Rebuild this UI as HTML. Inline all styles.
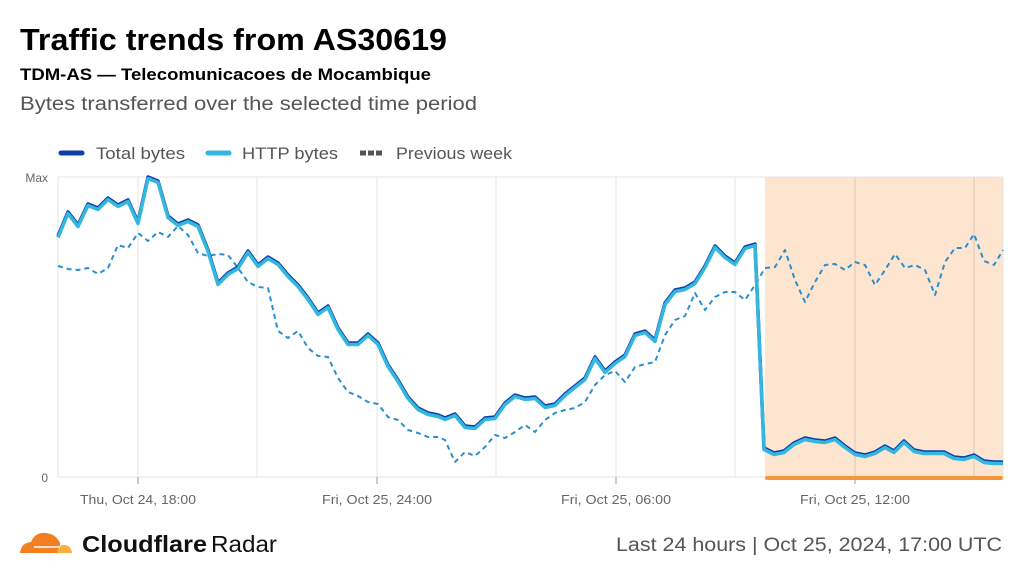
<!DOCTYPE html>
<html><head><meta charset="utf-8"><style>
html,body{margin:0;padding:0;background:#fff;}
body{width:1024px;height:576px;overflow:hidden;font-family:"Liberation Sans",sans-serif;}
</style></head><body>
<svg width="1024" height="576" viewBox="0 0 1024 576" xmlns="http://www.w3.org/2000/svg" font-family="Liberation Sans, sans-serif">
<text x="20" y="50" font-size="31" font-weight="bold" fill="#000" textLength="427" lengthAdjust="spacingAndGlyphs">Traffic trends from AS30619</text>
<text x="20" y="80" font-size="17" font-weight="bold" fill="#000" textLength="411" lengthAdjust="spacingAndGlyphs">TDM-AS — Telecomunicacoes de Mocambique</text>
<text x="20" y="110" font-size="19" fill="#555" textLength="457" lengthAdjust="spacingAndGlyphs">Bytes transferred over the selected time period</text>
<!-- legend -->
<line x1="61" y1="153" x2="82" y2="153" stroke="#0a3ea8" stroke-width="5" stroke-linecap="round"/>
<text x="96" y="159" font-size="17" fill="#555" textLength="89" lengthAdjust="spacingAndGlyphs">Total bytes</text>
<line x1="208" y1="153" x2="229" y2="153" stroke="#34b6dd" stroke-width="5" stroke-linecap="round"/>
<text x="242" y="159" font-size="17" fill="#555" textLength="96" lengthAdjust="spacingAndGlyphs">HTTP bytes</text>
<line x1="360" y1="153" x2="383" y2="153" stroke="#555" stroke-width="5" stroke-dasharray="6,2"/>
<text x="396" y="159" font-size="17" fill="#555" textLength="116" lengthAdjust="spacingAndGlyphs">Previous week</text>
<!-- shade -->
<rect x="765" y="177" width="238" height="300" fill="#fde5d0"/>
<g stroke="#e4e4e4" stroke-width="1">
<line x1="58" y1="177" x2="1003" y2="177"/>
<line x1="58" y1="477" x2="1003" y2="477"/>
<line x1="58" y1="177" x2="58" y2="477"/>
<line x1="138" y1="177" x2="138" y2="477"/><line x1="257" y1="177" x2="257" y2="477"/>
<line x1="377" y1="177" x2="377" y2="477"/><line x1="496" y1="177" x2="496" y2="477"/>
<line x1="616" y1="177" x2="616" y2="477"/><line x1="735" y1="177" x2="735" y2="477"/>
<line x1="855" y1="177" x2="855" y2="477" stroke="#dcc8b8"/><line x1="974" y1="177" x2="974" y2="477" stroke="#dcc8b8"/>
<line x1="1003" y1="177" x2="1003" y2="477"/>
</g>
<g stroke="#999" stroke-width="1"><line x1="138" y1="477" x2="138" y2="484"/><line x1="377" y1="477" x2="377" y2="484"/><line x1="616" y1="477" x2="616" y2="484"/><line x1="855" y1="477" x2="855" y2="484"/></g>
<rect x="765" y="476" width="238" height="4" rx="2" fill="#f6963a"/>
<text x="48" y="182" font-size="12" fill="#666" text-anchor="end">Max</text>
<text x="48" y="482" font-size="12" fill="#666" text-anchor="end">0</text>
<g font-size="13" fill="#666">
<text x="80" y="504" textLength="116" lengthAdjust="spacingAndGlyphs">Thu, Oct 24, 18:00</text>
<text x="322" y="504" textLength="110" lengthAdjust="spacingAndGlyphs">Fri, Oct 25, 24:00</text>
<text x="561" y="504" textLength="110" lengthAdjust="spacingAndGlyphs">Fri, Oct 25, 06:00</text>
<text x="800" y="504" textLength="110" lengthAdjust="spacingAndGlyphs">Fri, Oct 25, 12:00</text>
</g>
<g fill="none" stroke-linejoin="round">
<polyline stroke="#2a8fce" stroke-width="2" stroke-dasharray="5,4" points="58,266 68,269 78,270 88,268 98,274 108,268 118,245 128,248 138,233 148,241 158,232 168,237 178,226 188,235 198,253 208,256 218,254 228,255 238,268 248,282 258,287 268,288 278,331 288,338 298,331 308,348 318,356 328,357 338,378 348,392 358,396 368,402 378,404 388,417 398,420 408,430 418,433 428,437 438,437 445,440 455,462 465,452 475,456 485,447 495,435 505,438 515,432 525,425 535,432 545,420 555,413 565,410 575,408 585,402 595,385 605,375 615,371 625,382 635,367 645,364 655,362 665,335 675,320 685,316 695,293 705,310 715,297 725,292 735,292 745,300 755,285 765,268 775,267 785,250 795,280 805,302 815,282 825,265 835,264 845,270 855,262 865,265 875,285 885,270 895,254 905,268 915,265 925,270 935,295 945,262 955,248 965,248 974,234 984,261 994,265 1003,250"/>
<polyline stroke="#0a3ea8" stroke-width="3.5" points="58,236 68,212 78,225 88,204 98,208 108,198 118,205 128,200 138,222 148,177 158,181 168,216 178,224 188,220 198,225 208,250 218,283 228,273 238,267 248,251 258,265 268,257 278,263 288,275 298,285 308,298 318,313 328,306 338,328 348,343 358,343 368,334 378,343 388,365 398,380 408,397 418,408 428,413 438,415 445,418 455,414 465,426 475,427 485,418 495,417 505,403 515,395 525,398 535,397 545,406 555,404 565,394 575,386 585,378 595,357 605,371 615,362 625,355 635,334 645,331 655,340 665,303 675,290 685,288 695,282 705,266 715,246 725,256 735,263 745,247 755,244 764,448 774,453 784,451 794,443 805,438 815,440 825,441 835,438 845,446 855,453 865,455 875,452 885,446 894,451 904,441 914,450 924,452 944,452 954,457 964,458 974,455 984,461 994,462 1003,462"/>
<polyline stroke="#34b6dd" stroke-width="3.5" transform="translate(0,1.5)" points="58,236 68,212 78,225 88,204 98,208 108,198 118,205 128,200 138,222 148,177 158,181 168,216 178,224 188,220 198,225 208,250 218,283 228,273 238,267 248,251 258,265 268,257 278,263 288,275 298,285 308,298 318,313 328,306 338,328 348,343 358,343 368,334 378,343 388,365 398,380 408,397 418,408 428,413 438,415 445,418 455,414 465,426 475,427 485,418 495,417 505,403 515,395 525,398 535,397 545,406 555,404 565,394 575,386 585,378 595,357 605,371 615,362 625,355 635,334 645,331 655,340 665,303 675,290 685,288 695,282 705,266 715,246 725,256 735,263 745,247 755,244 764,448 774,453 784,451 794,443 805,438 815,440 825,441 835,438 845,446 855,453 865,455 875,452 885,446 894,451 904,441 914,450 924,452 944,452 954,457 964,458 974,455 984,461 994,462 1003,462"/>
</g>
<!-- logo -->
<g>
<path d="M20,553 Q21,543 31,542 Q35,532 46,533 Q56,534 60,543 L60,553 Z" fill="#f38020"/>
<path d="M57,553 Q58,545 64,545 Q71,545 72,553 Z" fill="#faae40"/>
<line x1="34" y1="547" x2="60" y2="547" stroke="#fff" stroke-width="1.5"/>
</g>
<text x="82" y="552" font-size="23" font-weight="bold" fill="#111" textLength="125" lengthAdjust="spacingAndGlyphs">Cloudflare</text>
<text x="211" y="552" font-size="23" fill="#111" textLength="66" lengthAdjust="spacingAndGlyphs">Radar</text>
<text x="616" y="551" font-size="19" fill="#555" textLength="386" lengthAdjust="spacingAndGlyphs">Last 24 hours | Oct 25, 2024, 17:00 UTC</text>
</svg>
</body></html>
